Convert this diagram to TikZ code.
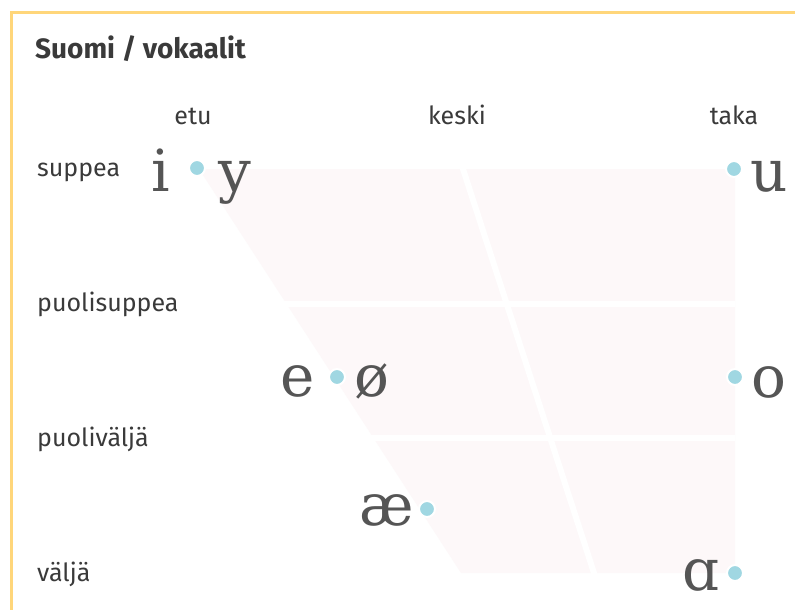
\documentclass[tikz,border=0pt]{standalone}
\usepackage{fontspec}
\setmainfont{Fira Sans}
\newfontfamily\ipafont{DejaVu Serif}
\usetikzlibrary{calc}
\definecolor{framey}{RGB}{255,214,122}
\definecolor{chartbg}{RGB}{253,248,249}
\definecolor{dotblue}{RGB}{160,215,226}
\definecolor{labelgray}{RGB}{58,58,58}
\definecolor{vowelgray}{RGB}{85,85,85}

\begin{document}
\begin{tikzpicture}[x=1pt, y=-1pt,
    lbl/.style={text=labelgray, font=\fontsize{25}{28}\selectfont, inner sep=0pt},
    vowel/.style={text=vowelgray, font=\ipafont\fontsize{58}{60}\selectfont, inner sep=0pt, anchor=base},
    vdot/.style={circle, fill=dotblue, draw=white, line width=2pt, minimum size=16pt, inner sep=0pt}]
  \useasboundingbox (0,0) rectangle (795,610);
  \fill[white] (0,0) rectangle (795,610);
  % frame, open to the right and bottom
  \draw[framey, line width=3pt] (11.5,620) -- (11.5,12.5) -- (805,12.5);
  \node[anchor=base west, text=labelgray, inner sep=0pt,
        font=\bfseries\fontsize{28}{30}\selectfont] (title) at (35,59) {Suomi / vokaalit};

  % chart corners
  \coordinate (tl) at (199,169);
  \coordinate (tr) at (735,169);
  \coordinate (br) at (735,573);
  \coordinate (bl) at (461,573);
  \fill[chartbg] (tl) -- (tr) -- (br) -- (bl) -- cycle;
  % white gaps between the cells
  \foreach \f in {1,2} {
    \draw[white, line width=6pt] ($(tl)!\f/3!(bl)+(-4,0)$) -- ($(tr)!\f/3!(br)$);
  }
  \draw[white, line width=6pt] ($(463,169)!-0.02!(594,573)$) -- ($(463,169)!1.02!(594,573)$);

  % column and row labels
  \foreach \name/\x/\txt in {etu/193/etu, keski/457/keski, taka/734/taka} {
    \node[lbl, anchor=base] (col-\name) at (\x,124) {\txt};
  }
  \foreach \name/\y/\txt in {r1/176/suppea, r2/311/puolisuppea, r3/446/puoliväljä, r4/581/väljä} {
    \node[lbl, anchor=base west] (row-\name) at (37,\y) {\txt};
  }

  % vowel points
  \foreach \name/\x/\y in {iy/197/168, u/734/169, eoe/337/377, o/735/377, ae/427/509, a/735/573} {
    \node[vdot] (dot-\name) at (\x,\y) {};
  }
  \foreach \name/\x/\y/\glyph in {i/161/191/i, y/235/191/y, u/769/191/u,
                                  e/298/396/e, oe/372/396/ø, o/769/397/o,
                                  ae/387/525/æ, a/701/590/ɑ} {
    \node[vowel] (v-\name) at (\x,\y) {\glyph};
  }
\end{tikzpicture}
\end{document}
